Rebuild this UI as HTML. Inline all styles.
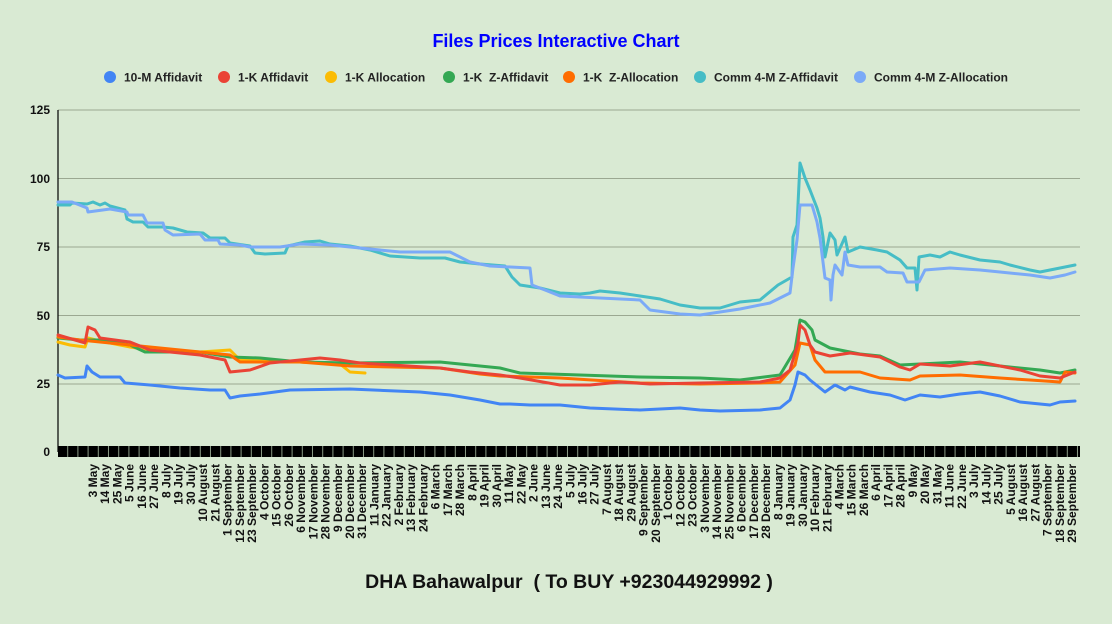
<!DOCTYPE html>
<html><head><meta charset="utf-8"><style>
html,body{margin:0;padding:0;background:#d9ead3;}
svg{display:block;font-family:"Liberation Sans",Arial,sans-serif;}
text{white-space:pre;}
</style></head><body>
<svg width="1112" height="624" viewBox="0 0 1112 624" xmlns="http://www.w3.org/2000/svg">
<defs>
<pattern id="gp" x="58" y="0" width="10.2" height="20" patternUnits="userSpaceOnUse">
<rect width="10.2" height="20" fill="#000"/><rect x="9.2" width="1" height="20" fill="#8a9a85"/>
</pattern>
</defs>
<rect width="1112" height="624" fill="#d9ead3"/>
<text x="556" y="47" text-anchor="middle" font-size="18" font-weight="bold" fill="#0000ff">Files Prices Interactive Chart</text>
<g font-size="12" font-weight="bold" fill="#222">
<circle cx="110" cy="77" r="6" fill="#4285f4"/><text x="124" y="81.5">10-M Affidavit</text>
<circle cx="224" cy="77" r="6" fill="#ea4335"/><text x="238" y="81.5">1-K Affidavit</text>
<circle cx="331" cy="77" r="6" fill="#fbbc04"/><text x="345" y="81.5">1-K Allocation</text>
<circle cx="449" cy="77" r="6" fill="#34a853"/><text x="463" y="81.5">1-K&#160; Z-Affidavit</text>
<circle cx="569" cy="77" r="6" fill="#ff6d01"/><text x="583" y="81.5">1-K&#160; Z-Allocation</text>
<circle cx="700" cy="77" r="6" fill="#46bdc6"/><text x="714" y="81.5">Comm 4-M Z-Affidavit</text>
<circle cx="860" cy="77" r="6" fill="#7baaf7"/><text x="874" y="81.5">Comm 4-M Z-Allocation</text>
</g>
<g stroke="#9ba891" stroke-width="1">
<line x1="58" y1="110" x2="1080" y2="110"/>
<line x1="58" y1="178.5" x2="1080" y2="178.5"/>
<line x1="58" y1="247" x2="1080" y2="247"/>
<line x1="58" y1="315.5" x2="1080" y2="315.5"/>
<line x1="58" y1="384" x2="1080" y2="384"/>
</g>
<g font-size="12" font-weight="bold" fill="#111" text-anchor="end">
<text x="50" y="114">125</text><text x="50" y="183">100</text><text x="50" y="251">75</text><text x="50" y="320">50</text><text x="50" y="388">25</text><text x="50" y="456">0</text>
</g>
<line x1="58" y1="110" x2="58" y2="452" stroke="#000" stroke-width="1.2"/>
<rect x="58" y="446" width="1022" height="11" fill="url(#gp)"/>
<g fill="none" stroke-width="3" stroke-linejoin="round" stroke-linecap="round">
<polyline stroke="#46bdc6" points="58,205 70,205 72,203 87,204 93,202 100,205 105,203 110,206 125,210 127,219 133,222 143,222 148,227 163,227 173,228 187,232 203,233 210,238 225,238 230,243 250,246 255,253 265,254 285,253 288,246 305,242 320,241 330,244 350,246 370,250 390,256 420,258 445,258 460,262 480,264 505,266 512,277 520,285 540,288 560,293 580,294 590,293 600,291 620,293 640,296 660,299 680,305 700,308 720,308 740,302 760,300 778,285 792,277 793,237 797,225 800,163 805,178 810,190 817,208 820,218 823,237 825,257 830,233 835,240 837,255 845,237 848,252 860,247 877,250 887,252 900,260 907,268 915,268 917,290 919,257 930,255 940,257 950,252 960,255 980,260 1000,262 1010,265 1030,270 1040,272 1050,270 1060,268 1075,265"/>
<polyline stroke="#7baaf7" points="58,202 72,202 87,208 88,212 110,209 127,212 128,215 143,215 147,223 163,223 165,230 173,235 200,234 205,240 218,240 220,244 240,245 250,247 280,247 300,244 330,245 350,247 380,250 400,252 450,252 470,262 490,266 530,268 532,285 545,290 560,296 600,298 640,300 650,310 680,314 700,315 740,309 770,303 790,293 793,268 797,240 800,205 812,205 817,222 820,238 825,278 830,280 831,300 833,275 835,265 842,275 845,252 848,265 860,267 880,267 887,272 903,273 907,282 919,282 925,270 950,268 980,270 1000,272 1030,275 1050,278 1065,275 1075,272"/>
<polyline stroke="#4285f4" points="58,375 65,378 85,377 87,366 92,372 100,377 120,377 125,383 150,385 180,388 210,390 225,390 230,398 240,396 260,394 290,390 350,389 420,392 450,395 480,400 500,404 510,404 530,405 560,405 590,408 640,410 680,408 700,410 720,411 760,410 780,408 790,400 795,385 798,372 805,375 810,380 825,392 835,385 845,390 850,387 870,392 890,395 905,400 920,395 940,397 960,394 980,392 1000,396 1020,402 1040,404 1050,405 1060,402 1075,401"/>
<polyline stroke="#fbbc04" points="58,342 70,345 85,347 88,338 100,341 130,347 150,350 200,352 230,350 240,360 260,360 300,362 340,364 350,372 365,373"/>
<polyline stroke="#34a853" points="58,338 80,340 100,340 130,345 145,352 200,352 230,357 260,358 300,362 350,363 440,362 470,365 500,368 520,373 580,375 640,377 700,378 740,380 780,375 795,350 800,320 805,322 812,330 815,340 830,348 860,354 880,356 900,365 920,364 960,362 1000,366 1040,370 1060,373 1075,370"/>
<polyline stroke="#ff6d01" points="58,337 80,340 100,342 130,345 150,347 200,352 230,355 240,362 300,362 350,366 440,368 480,374 500,376 560,378 640,383 700,384 760,383 780,382 795,365 800,343 810,345 815,360 825,372 860,372 880,378 910,380 920,376 960,375 1000,378 1030,380 1060,382 1065,372 1075,373"/>
<polyline stroke="#ea4335" points="58,335 75,340 85,343 88,327 95,330 100,338 130,342 150,350 200,355 225,360 230,372 250,370 270,363 300,360 320,358 340,360 360,363 440,368 470,372 500,375 520,378 560,385 590,385 620,382 650,384 700,383 760,382 780,378 790,370 798,343 800,325 805,330 810,345 815,352 830,356 850,353 880,357 900,367 910,370 920,364 950,366 980,362 1000,366 1020,370 1040,376 1060,378 1075,372"/>
</g>
<g font-size="12" font-weight="bold" fill="#111" text-anchor="end">
<text transform="translate(97.0,464) rotate(-90)">3 May</text>
<text transform="translate(109.2,464) rotate(-90)">14 May</text>
<text transform="translate(121.5,464) rotate(-90)">25 May</text>
<text transform="translate(133.7,464) rotate(-90)">5 June</text>
<text transform="translate(146.0,464) rotate(-90)">16 June</text>
<text transform="translate(158.2,464) rotate(-90)">27 June</text>
<text transform="translate(170.4,464) rotate(-90)">8 July</text>
<text transform="translate(182.7,464) rotate(-90)">19 July</text>
<text transform="translate(194.9,464) rotate(-90)">30 July</text>
<text transform="translate(207.1,464) rotate(-90)">10 August</text>
<text transform="translate(219.4,464) rotate(-90)">21 August</text>
<text transform="translate(231.6,464) rotate(-90)">1 September</text>
<text transform="translate(243.9,464) rotate(-90)">12 September</text>
<text transform="translate(256.1,464) rotate(-90)">23 September</text>
<text transform="translate(268.3,464) rotate(-90)">4 October</text>
<text transform="translate(280.6,464) rotate(-90)">15 October</text>
<text transform="translate(292.8,464) rotate(-90)">26 October</text>
<text transform="translate(305.0,464) rotate(-90)">6 November</text>
<text transform="translate(317.3,464) rotate(-90)">17 November</text>
<text transform="translate(329.5,464) rotate(-90)">28 November</text>
<text transform="translate(341.8,464) rotate(-90)">9 December</text>
<text transform="translate(354.0,464) rotate(-90)">20 December</text>
<text transform="translate(366.2,464) rotate(-90)">31 December</text>
<text transform="translate(378.5,464) rotate(-90)">11 January</text>
<text transform="translate(390.7,464) rotate(-90)">22 January</text>
<text transform="translate(402.9,464) rotate(-90)">2 February</text>
<text transform="translate(415.2,464) rotate(-90)">13 February</text>
<text transform="translate(427.4,464) rotate(-90)">24 February</text>
<text transform="translate(439.7,464) rotate(-90)">6 March</text>
<text transform="translate(451.9,464) rotate(-90)">17 March</text>
<text transform="translate(464.1,464) rotate(-90)">28 March</text>
<text transform="translate(476.4,464) rotate(-90)">8 April</text>
<text transform="translate(488.6,464) rotate(-90)">19 April</text>
<text transform="translate(500.8,464) rotate(-90)">30 April</text>
<text transform="translate(513.1,464) rotate(-90)">11 May</text>
<text transform="translate(525.3,464) rotate(-90)">22 May</text>
<text transform="translate(537.6,464) rotate(-90)">2 June</text>
<text transform="translate(549.8,464) rotate(-90)">13 June</text>
<text transform="translate(562.0,464) rotate(-90)">24 June</text>
<text transform="translate(574.3,464) rotate(-90)">5 July</text>
<text transform="translate(586.5,464) rotate(-90)">16 July</text>
<text transform="translate(598.7,464) rotate(-90)">27 July</text>
<text transform="translate(611.0,464) rotate(-90)">7 August</text>
<text transform="translate(623.2,464) rotate(-90)">18 August</text>
<text transform="translate(635.5,464) rotate(-90)">29 August</text>
<text transform="translate(647.7,464) rotate(-90)">9 September</text>
<text transform="translate(659.9,464) rotate(-90)">20 September</text>
<text transform="translate(672.2,464) rotate(-90)">1 October</text>
<text transform="translate(684.4,464) rotate(-90)">12 October</text>
<text transform="translate(696.6,464) rotate(-90)">23 October</text>
<text transform="translate(708.9,464) rotate(-90)">3 November</text>
<text transform="translate(721.1,464) rotate(-90)">14 November</text>
<text transform="translate(733.4,464) rotate(-90)">25 November</text>
<text transform="translate(745.6,464) rotate(-90)">6 December</text>
<text transform="translate(757.8,464) rotate(-90)">17 December</text>
<text transform="translate(770.1,464) rotate(-90)">28 December</text>
<text transform="translate(782.3,464) rotate(-90)">8 January</text>
<text transform="translate(794.5,464) rotate(-90)">19 January</text>
<text transform="translate(806.8,464) rotate(-90)">30 January</text>
<text transform="translate(819.0,464) rotate(-90)">10 February</text>
<text transform="translate(831.3,464) rotate(-90)">21 February</text>
<text transform="translate(843.5,464) rotate(-90)">4 March</text>
<text transform="translate(855.7,464) rotate(-90)">15 March</text>
<text transform="translate(868.0,464) rotate(-90)">26 March</text>
<text transform="translate(880.2,464) rotate(-90)">6 April</text>
<text transform="translate(892.4,464) rotate(-90)">17 April</text>
<text transform="translate(904.7,464) rotate(-90)">28 April</text>
<text transform="translate(916.9,464) rotate(-90)">9 May</text>
<text transform="translate(929.2,464) rotate(-90)">20 May</text>
<text transform="translate(941.4,464) rotate(-90)">31 May</text>
<text transform="translate(953.6,464) rotate(-90)">11 June</text>
<text transform="translate(965.9,464) rotate(-90)">22 June</text>
<text transform="translate(978.1,464) rotate(-90)">3 July</text>
<text transform="translate(990.3,464) rotate(-90)">14 July</text>
<text transform="translate(1002.6,464) rotate(-90)">25 July</text>
<text transform="translate(1014.8,464) rotate(-90)">5 August</text>
<text transform="translate(1027.1,464) rotate(-90)">16 August</text>
<text transform="translate(1039.3,464) rotate(-90)">27 August</text>
<text transform="translate(1051.5,464) rotate(-90)">7 September</text>
<text transform="translate(1063.8,464) rotate(-90)">18 September</text>
<text transform="translate(1076.0,464) rotate(-90)">29 September</text>
</g>
<text x="569" y="588" text-anchor="middle" font-size="19.5" font-weight="bold" fill="#111">DHA Bahawalpur&#160; ( To BUY +923044929992 )</text>
</svg>
</body></html>
